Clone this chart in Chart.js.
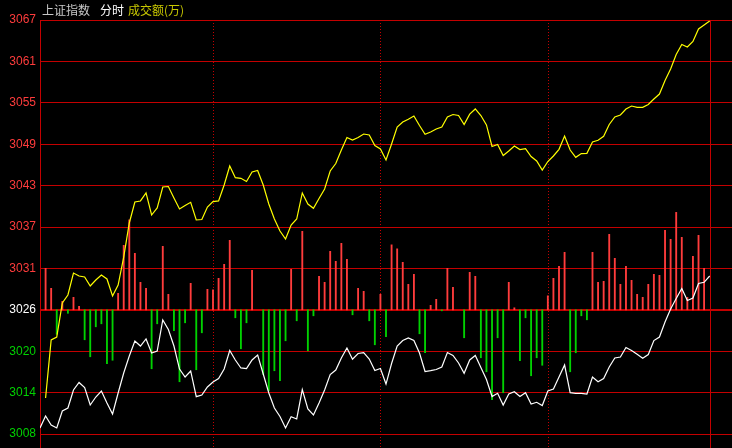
<!DOCTYPE html>
<html>
<head>
<meta charset="utf-8">
<script src="https://cdn.jsdelivr.net/npm/chart.js@4/dist/chart.umd.min.js"></script>
<style>
  html, body { margin: 0; padding: 0; background: #000; }
  #wrap { position: relative; width: 732px; height: 448px; background: #000; }
</style>
</head>
<body>
<div id="wrap"><canvas id="c"></canvas></div>
<script>
// ---- data (one point every 2 minutes; slot 30 = 10:30, 60 = 11:30/13:00, 90 = 14:00) ----
const titleParts = ["上证指数", "分时", "成交额(万)"];
const tickValues = [3008.0, 3013.9, 3019.8, 3025.7, 3031.6, 3037.5, 3043.4, 3049.3, 3055.2, 3061.1, 3067.0];
const tickLabels = ["3008", "3014", "3020", "3026", "3031", "3037", "3043", "3049", "3055", "3061", "3067"];
const baseLevel = 3025.7;
const dottedSlots = [30, 60, 90];
const solidSlots = [-1, 119];

// yellow line, slots 0..119
const yellowLine = [
  3013.13, 3021.40, 3021.82, 3026.67, 3027.81, 3030.94, 3030.52, 3030.37, 3029.09, 3029.95,
  3030.66, 3030.09, 3027.67, 3029.23, 3033.22, 3038.07, 3041.06, 3041.21, 3042.35, 3039.21,
  3040.21, 3043.20, 3043.27, 3041.63, 3040.07, 3040.56, 3041.02, 3038.50, 3038.57, 3040.35,
  3041.11, 3041.21, 3043.49, 3046.19, 3044.53, 3044.44, 3043.98, 3045.34, 3045.55, 3043.49,
  3040.78, 3038.64, 3036.93, 3035.79, 3037.78, 3038.64, 3042.35, 3040.78, 3040.16, 3041.56,
  3042.92, 3045.48, 3046.55, 3048.47, 3050.25, 3049.90, 3050.25, 3050.75, 3050.61, 3049.11,
  3048.62, 3047.05, 3049.33, 3051.75, 3052.46, 3052.85, 3053.32, 3051.96, 3050.71, 3051.04,
  3051.47, 3051.75, 3053.18, 3053.53, 3053.39, 3052.11, 3053.58, 3054.32, 3053.39, 3052.04,
  3048.97, 3049.26, 3047.69, 3048.33, 3049.04, 3048.54, 3048.66, 3047.55, 3046.91, 3045.62,
  3046.83, 3047.62, 3048.57, 3050.47, 3048.47, 3047.43, 3047.97, 3048.00, 3049.61, 3049.86,
  3050.43, 3052.11, 3053.18, 3053.46, 3054.32, 3054.74, 3054.56, 3054.56, 3054.96, 3055.74,
  3056.45, 3058.38, 3060.02, 3062.08, 3063.51, 3063.15, 3063.94, 3065.72, 3066.29, 3066.86
];
const yellowStart = 0;

// white line, slots -1..119
const whiteLine = [
  3008.86,
  3010.56, 3009.28, 3008.86, 3011.28, 3011.71, 3014.27, 3015.34, 3014.63, 3012.13, 3013.27,
  3014.13, 3012.42, 3010.85, 3013.84, 3016.69, 3019.12, 3021.25, 3020.54, 3021.54, 3019.54,
  3019.83, 3024.25, 3022.89, 3020.54, 3017.26, 3016.12, 3016.98, 3013.32, 3013.56, 3014.70,
  3015.41, 3015.91, 3017.26, 3019.90, 3018.55, 3017.41, 3017.33, 3018.55, 3019.26, 3016.55,
  3013.84, 3011.71, 3010.49, 3008.86, 3010.47, 3010.14, 3014.34, 3011.56, 3010.71, 3012.42,
  3014.27, 3016.48, 3017.12, 3018.83, 3020.26, 3018.65, 3019.47, 3019.61, 3018.69, 3017.05,
  3017.33, 3015.12, 3018.05, 3020.54, 3021.32, 3021.68, 3021.32, 3019.54, 3016.91, 3017.02,
  3017.19, 3017.55, 3019.61, 3019.19, 3018.12, 3016.65, 3018.55, 3019.19, 3017.48, 3015.77,
  3013.34, 3013.80, 3012.13, 3013.70, 3014.03, 3013.34, 3013.89, 3012.27, 3012.52, 3012.06,
  3014.13, 3014.41, 3016.12, 3017.83, 3013.89, 3013.80, 3013.80, 3013.70, 3016.12, 3015.45,
  3015.91, 3017.55, 3018.83, 3018.97, 3020.33, 3019.90, 3019.36, 3018.79, 3019.33, 3021.32,
  3021.82, 3023.96, 3025.81, 3027.31, 3028.74, 3027.03, 3027.38, 3029.45, 3029.62, 3030.52
];
const whiteStart = -1;

// signed bar values (红 up / 绿 down), slots 0..119
const barValues = [
   415,  215, -245,   85,  -35,  125,   35, -300, -470, -170,
  -140, -540, -505,  165,  645,  900,  565,  275,  215, -590,
  -140,  635,  155, -210, -720, -130,  265, -600, -230,  205,
   200,  315,  455,  695,  -80, -390, -130,  395,    0, -647,
  -810, -610, -710, -310,  405, -110,  785, -410,  -60,  335,
   275,  585,  485,  665,  505,  -50,  215,  185, -110, -350,
   155, -270,  650,  610,  475,  255,  355, -240, -430,   45,
   105,  -10,  415,  225,    0, -280,  375,  335, -480, -620,
  -900, -280, -830,  275,   20, -510,  -80, -660, -480, -555,
   140,  315,  435,  575, -620, -430,  -60, -100,  575,  275,
   285,  755,  515,  255,  435,  295,  155,  125,  255,  355,
   345,  795,  705,  975,  725,  125,  535,  745,  415,    0
];
const barStart = 0;

// ---- colours ----
const GRID = "#c40000";
const UP = "#ff3c3c";
const DOWN = "#00d200";

const toPoints = (arr, start) => arr.map((v, k) => ({ x: start + k, y: v }));
const barPoints = barValues.map((v, k) => ({ x: barStart + k, y: v === 0 ? null : v }));

const overlay = {
  id: "overlay",
  beforeDatasetsDraw(chart) {
    const { ctx, chartArea, scales } = chart;
    const xs = scales.x;
    ctx.save();
    ctx.strokeStyle = GRID;
    ctx.lineWidth = 1;
    ctx.setLineDash([1, 2]);
    dottedSlots.forEach(s => {
      const px = Math.round(xs.getPixelForValue(s)) + 0.5;
      ctx.beginPath();
      ctx.moveTo(px, chartArea.top + 3);
      ctx.lineTo(px, chartArea.bottom);
      ctx.stroke();
    });
    ctx.setLineDash([]);
    solidSlots.forEach(s => {
      const px = Math.round(xs.getPixelForValue(s)) + 0.5;
      ctx.beginPath();
      ctx.moveTo(px, chartArea.top);
      ctx.lineTo(px, chartArea.bottom);
      ctx.stroke();
    });
    ctx.restore();
  },
  afterDraw(chart) {
    const { ctx } = chart;
    ctx.save();
    ctx.font = "12px 'Noto Sans CJK SC', sans-serif";
    ctx.textBaseline = "middle";
    ctx.textAlign = "left";
    const cols = ["#c8c8c8", "#ffffff", "#c8c800"];
    const xs = [42, 100, 128];
    titleParts.forEach((t, k) => {
      ctx.fillStyle = cols[k];
      ctx.fillText(t, xs[k], 10);
    });
    ctx.restore();
  }
};

new Chart(document.getElementById("c"), {
  type: "bar",
  data: {
    datasets: [
      {
        type: "line",
        data: toPoints(yellowLine, yellowStart),
        borderColor: "#ffff00",
        borderWidth: 1.2,
        pointRadius: 0,
        tension: 0,
        yAxisID: "y",
        order: 1
      },
      {
        type: "line",
        data: toPoints(whiteLine, whiteStart),
        borderColor: "#ffffff",
        borderWidth: 1.2,
        pointRadius: 0,
        tension: 0,
        yAxisID: "y",
        order: 2
      },
      {
        type: "bar",
        data: barPoints,
        backgroundColor: ctx => (ctx.raw && ctx.raw.y < 0 ? DOWN : UP),
        barThickness: 1.2,
        yAxisID: "yv",
        order: 3
      }
    ]
  },
  options: {
    responsive: true,
    maintainAspectRatio: false,
    animation: false,
    layout: { padding: { top: 20, left: 0, right: 0, bottom: 0 } },
    plugins: { legend: { display: false }, tooltip: { enabled: false } },
    scales: {
      x: {
        type: "linear",
        min: -1,
        max: 123,
        offset: false,
        grid: { offset: false },
        display: false
      },
      y: {
        type: "linear",
        position: "left",
        min: 3006.005,
        max: 3067,
        afterBuildTicks: s => { s.ticks = tickValues.map(v => ({ value: v })); },
        afterFit: s => { s.width = 40; s.paddingTop = 0; s.paddingBottom = 0; },
        border: { display: false },
        grid: {
          color: GRID,
          drawTicks: false,
          lineWidth: c => (c.tick && Math.abs(c.tick.value - baseLevel) < 0.01 ? 2 : 1)
        },
        ticks: {
          padding: 4,
          font: { family: "'Liberation Sans', Arial, sans-serif", size: 12 },
          color: c => {
            const v = c.tick.value;
            if (Math.abs(v - baseLevel) < 0.01) return "#ffffff";
            return v > baseLevel ? "#ff3c3c" : "#00d200";
          },
          callback: (v, i) => tickLabels[i]
        }
      },
      yv: {
        type: "linear",
        display: false,
        min: -1383,
        max: 2900
      }
    }
  },
  plugins: [overlay]
});
</script>
</body>
</html>
